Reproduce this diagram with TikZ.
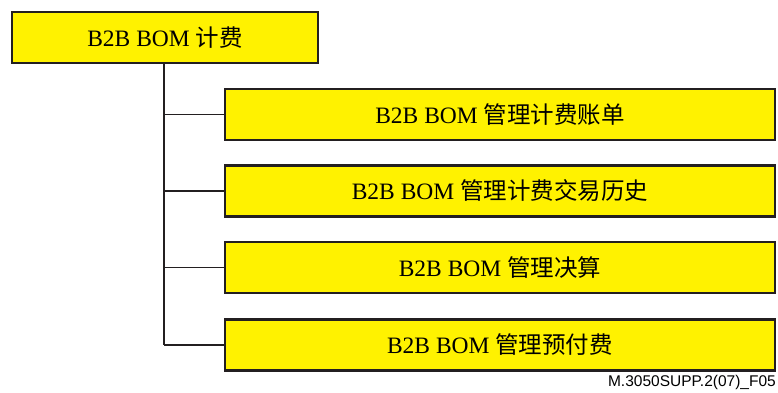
\documentclass[tikz,border=0pt]{standalone}
\usepackage{fontspec}
\setmainfont{Liberation Serif}
\newfontfamily\cjk{Noto Sans CJK SC}
\newfontfamily\lsans{Liberation Sans}
\definecolor{boxyellow}{HTML}{FFF200}
\definecolor{lineDark}{HTML}{231F20}
\tikzset{
  ybox/.style={draw=lineDark, line width=2.6pt, fill=boxyellow, rectangle, anchor=north west,
    inner sep=0pt, outer sep=0pt, font=\fontsize{23.5}{26}\selectfont},
  conn/.style={draw=lineDark, line width=1.5pt},
}
\begin{document}
\begin{tikzpicture}[x=1pt,y=-1pt]
\useasboundingbox (0,0) rectangle (778,392);
\node[ybox, minimum width=306pt, minimum height=51pt] (root) at (12,12) {B2B BOM {\cjk 计费}};
\node[ybox, minimum width=550pt, minimum height=51pt] (c1) at (225,89) {B2B BOM {\cjk 管理计费账单}};
\node[ybox, minimum width=550pt, minimum height=51pt] (c2) at (225,165.5) {B2B BOM {\cjk 管理计费交易历史}};
\node[ybox, minimum width=550pt, minimum height=51pt] (c3) at (225,242) {B2B BOM {\cjk 管理决算}};
\node[ybox, minimum width=550pt, minimum height=51pt] (c4) at (225,319.5) {B2B BOM {\cjk 管理预付费}};
\coordinate (t) at (164,0);
\coordinate (b) at (c4.west -| t);
\draw[conn] (root.south -| t) -- (b);
\draw[conn] (c1.west -| t) -- (c1.west);
\draw[conn] (c2.west -| t) -- (c2.west);
\draw[conn] (c3.west -| t) -- (c3.west);
\draw[conn] (b) -- (c4.west);
\node[anchor=south east, inner sep=0pt, font=\lsans\fontsize{15.5}{17}\selectfont] (lbl) at (776,390) {M.3050SUPP.2(07)\_F05};
\end{tikzpicture}
\end{document}
